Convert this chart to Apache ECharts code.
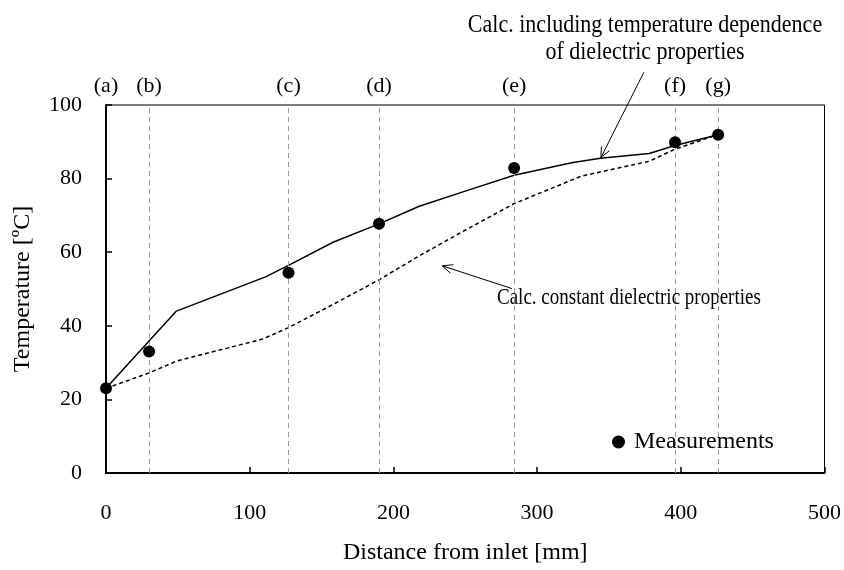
<!DOCTYPE html>
<html><head><meta charset="utf-8">
<script src="https://cdn.jsdelivr.net/npm/echarts@6/dist/echarts.min.js"></script>
<style>html,body{margin:0;padding:0;background:#fff}#c{width:844px;height:570px}</style>
</head><body><div id="c"></div>
<script>
// Data
const stationX = [0, 30, 127, 190, 284, 396, 426];
const stationLabels = ['(a)', '(b)', '(c)', '(d)', '(e)', '(f)', '(g)'];
const measX = [0, 30, 127, 190, 284, 396, 426];
const measY = [23, 33, 54.4, 67.7, 82.9, 89.9, 91.9];
const calcTempX = [0, 49, 111, 127, 158, 190, 218, 250, 284, 324, 344, 378, 396, 426];
const calcTempY = [23, 44, 53.3, 56.4, 62.7, 67.7, 72.5, 76.6, 80.9, 84.3, 85.5, 86.8, 89, 91.9];
const calcConstX = [0, 30, 49, 109, 127, 158, 190, 218, 250, 284, 331, 378, 396, 426];
const calcConstY = [23, 27.2, 30.4, 36.4, 39.5, 45.8, 52.5, 59, 66, 73.2, 80.7, 84.7, 88, 92];
const xTicks = [0, 100, 200, 300, 400, 500];
const yTicks = [0, 20, 40, 60, 80, 100];
// annotation anchors in data coordinates [x, y]
const arrowTemp = [[374.3, 108.9], [344.4, 85.7]];
const arrowConst = [[282.6, 50.1], [234, 56.3]];

const FONT = "'Liberation Serif','Times New Roman',serif";
const chart = echarts.init(document.getElementById('c'), null, {renderer: 'canvas'});
const zip = (xs, ys) => xs.map((x, i) => [x, ys[i]]);

chart.setOption({
  animation: false,
  backgroundColor: '#fff',
  textStyle: {fontFamily: FONT, color: '#000'},
  grid: {left: 106, right: 18, top: 105, bottom: 94, show: true, borderColor: '#000', borderWidth: 1, containLabel: false},
  xAxis: {
    type: 'value', min: xTicks[0], max: xTicks[xTicks.length - 1], interval: 100,
    name: 'Distance from inlet [mm]', nameLocation: 'middle', nameGap: 68,
    nameTextStyle: {fontFamily: FONT, fontSize: 24, color: '#000'},
    axisLine: {show: true, lineStyle: {color: '#000', width: 2}},
    axisTick: {show: true, inside: true, length: 6, lineStyle: {color: '#000', width: 1.5}},
    axisLabel: {fontFamily: FONT, fontSize: 22, color: '#000', margin: 29},
    splitLine: {show: false}
  },
  yAxis: {
    type: 'value', min: yTicks[0], max: yTicks[yTicks.length - 1], interval: 20,
    name: 'Temperature [ºC]', nameLocation: 'middle', nameGap: 71,
    nameTextStyle: {fontFamily: FONT, fontSize: 24, color: '#000'},
    axisLine: {show: true, lineStyle: {color: '#000', width: 2}},
    axisTick: {show: true, inside: true, length: 6, lineStyle: {color: '#000', width: 1.5}},
    axisLabel: {fontFamily: FONT, fontSize: 22, color: '#000', margin: 24},
    splitLine: {show: false}
  },
  legend: {
    data: [{name: 'Measurements', icon: 'circle', itemStyle: {color: '#000', opacity: 1}}],
    left: 607, top: 425, itemWidth: 13, itemHeight: 13, itemGap: 8,
    textStyle: {fontFamily: FONT, fontSize: 24, lineHeight: 24, color: '#000', padding: [0, 0, 0, 4]}
  },
  series: [
    {
      name: 'stations', type: 'line', data: [], silent: true, z: 1,
      markLine: {
        silent: true, symbol: ['none', 'none'],
        lineStyle: {color: '#999', type: [5, 4], width: 1},
        label: {show: true, position: 'end', distance: 8, fontFamily: FONT, fontSize: 22, color: '#000', formatter: p => p.name},
        data: stationX.map((x, i) => [
          {name: stationLabels[i], coord: [x, 0], lineStyle: i === 0 ? {color: 'rgba(0,0,0,0)'} : undefined},
          {coord: [x, 100]}
        ])
      }
    },
    {
      name: 'Calc. temperature dependent', type: 'line', data: zip(calcTempX, calcTempY),
      showSymbol: false, symbol: 'none', lineStyle: {color: '#000', width: 1.5}, z: 3
    },
    {
      name: 'Calc. constant', type: 'line', data: zip(calcConstX, calcConstY),
      showSymbol: false, symbol: 'none', lineStyle: {color: '#000', width: 1.5, type: [4, 3]}, z: 3
    },
    {
      name: 'Measurements', type: 'scatter', data: zip(measX, measY),
      symbol: 'circle', symbolSize: 12, itemStyle: {color: '#000', opacity: 1}, z: 5
    }
  ]
});

function arrowGraphic(a) {
  const p0 = chart.convertToPixel({gridIndex: 0}, a[0]);
  const p1 = chart.convertToPixel({gridIndex: 0}, a[1]);
  const dx = p1[0] - p0[0], dy = p1[1] - p0[1];
  const len = Math.hypot(dx, dy), ux = dx / len, uy = dy / len;
  const L = 11, ang = 0.42;
  const rot = (t) => [ux * Math.cos(t) - uy * Math.sin(t), ux * Math.sin(t) + uy * Math.cos(t)];
  const r1 = rot(ang), r2 = rot(-ang);
  const style = {stroke: '#000', lineWidth: 1, fill: null};
  return [
    {type: 'line', shape: {x1: p0[0], y1: p0[1], x2: p1[0], y2: p1[1]}, style, z: 10},
    {type: 'polyline', shape: {points: [[p1[0] - r1[0] * L, p1[1] - r1[1] * L], p1, [p1[0] - r2[0] * L, p1[1] - r2[1] * L]]}, style, z: 10}
  ];
}

chart.setOption({
  graphic: [
    ...arrowGraphic(arrowTemp),
    ...arrowGraphic(arrowConst),
    {type: 'text', x: 645, y: 26, scaleY: 1.12, style: {text: 'Calc. including temperature dependence', font: '22px ' + FONT, fill: '#000', align: 'center', verticalAlign: 'middle'}},
    {type: 'text', x: 645, y: 53, scaleY: 1.12, style: {text: 'of dielectric properties', font: '22px ' + FONT, fill: '#000', align: 'center', verticalAlign: 'middle'}},
    {type: 'text', x: 497, y: 298, scaleY: 1.22, style: {text: 'Calc. constant dielectric properties', font: '19px ' + FONT, fill: '#000', align: 'left', verticalAlign: 'middle'}}
  ]
});
</script>
</body></html>
